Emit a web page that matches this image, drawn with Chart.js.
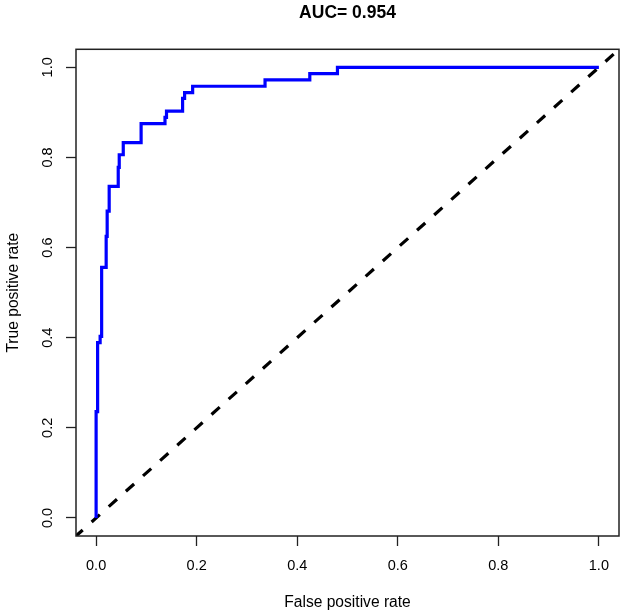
<!DOCTYPE html>
<html>
<head>
<meta charset="utf-8">
<script src="https://cdn.jsdelivr.net/npm/chart.js@4/dist/chart.umd.min.js"></script>
<style>
  html, body { margin: 0; padding: 0; background: #fff; }
  canvas { display: block; }
</style>
</head>
<body>
<canvas id="roc" width="624" height="615"></canvas>
<script>
// ROC curve: corners at the top of each vertical run
const fpr = [0, 0, 0.003, 0.008, 0.011, 0.020, 0.022, 0.026, 0.044, 0.046, 0.054, 0.0895, 0.137, 0.140, 0.172, 0.176, 0.192, 0.336, 0.425, 0.480, 1.0];
const tpr = [0, 0.236, 0.389, 0.403, 0.556, 0.625, 0.681, 0.736, 0.778, 0.806, 0.833, 0.875, 0.889, 0.903, 0.931, 0.944, 0.958, 0.972, 0.986, 1.0, 1.0];

// chance line end points
const diagX = [-0.04, 1.04];
const diagY = [-0.04, 1.04];

const xTickLabels = ['0.0', '0.2', '0.4', '0.6', '0.8', '1.0'];
const yTickLabels = ['0.0', '0.2', '0.4', '0.6', '0.8', '1.0'];

const titleText = 'AUC= 0.954';
const xTitle = 'False positive rate';
const yTitle = 'True positive rate';

const FONT = '"Liberation Sans", Arial, Helvetica, sans-serif';

// box round the plot region, like R's box()
const boxPlugin = {
    id: 'plotBox',
    afterDraw(chart) {
        const a = chart.chartArea;
        const ctx = chart.ctx;
        ctx.save();
        ctx.strokeStyle = '#222';
        ctx.lineWidth = 1.5;
        ctx.strokeRect(a.left, a.top, a.right - a.left, a.bottom - a.top);
        ctx.restore();
    }
};

const ctx = document.getElementById('roc').getContext('2d');
new Chart(ctx, {
    type: 'line',
    data: {
        datasets: [{
            label: 'ROC',
            data: fpr.map((x, i) => ({ x: x, y: tpr[i] })),
            borderColor: '#0000FF',
            borderWidth: 3.2,
            stepped: 'before',
            pointRadius: 0,
            fill: false
        }, {
            label: 'chance',
            data: diagX.map((x, i) => ({ x: x, y: diagY[i] })),
            borderColor: '#000000',
            borderWidth: 3.2,
            borderDash: [11, 12],
            borderDashOffset: 2,
            pointRadius: 0,
            fill: false
        }]
    },
    options: {
        responsive: false,
        animation: false,
        devicePixelRatio: 1,
        layout: { padding: { top: 0, left: 0, bottom: 0, right: 5 } },
        scales: {
            x: {
                type: 'linear',
                min: -0.04,
                max: 1.04,
                afterFit(scale) { scale.height = 79; },
                ticks: {
                    stepSize: 0.2,
                    includeBounds: false,
                    maxRotation: 0,
                    padding: 11.5,
                    color: '#000',
                    font: { family: FONT, size: 14.5 },
                    callback: (v, i) => xTickLabels[i]
                },
                grid: {
                    drawOnChartArea: false,
                    drawTicks: true,
                    tickLength: 10,
                    tickColor: '#222',
                    tickWidth: 1.3
                },
                border: { display: false },
                title: {
                    display: true,
                    text: xTitle,
                    color: '#000',
                    font: { family: FONT, size: 15.6 },
                    padding: { top: 0, bottom: 2.9 }
                }
            },
            y: {
                type: 'linear',
                min: -0.04,
                max: 1.04,
                afterFit(scale) { scale.width = 76; },
                ticks: {
                    stepSize: 0.2,
                    includeBounds: false,
                    minRotation: 90,
                    maxRotation: 90,
                    crossAlign: 'center',
                    padding: 8.3,
                    color: '#000',
                    font: { family: FONT, size: 14.5 },
                    callback: (v, i) => yTickLabels[i]
                },
                grid: {
                    drawOnChartArea: false,
                    drawTicks: true,
                    tickLength: 10,
                    tickColor: '#222',
                    tickWidth: 1.3
                },
                border: { display: false },
                title: {
                    display: true,
                    text: yTitle,
                    color: '#000',
                    font: { family: FONT, size: 15.6 },
                    padding: { top: 3.9, bottom: 0 }
                }
            }
        },
        plugins: {
            legend: { display: false },
            tooltip: { enabled: false },
            title: {
                display: true,
                text: titleText,
                fullSize: false,
                color: '#000',
                font: { family: FONT, size: 17.5, weight: 'bold' },
                padding: { top: 2.8, bottom: 25.5 }
            }
        }
    },
    plugins: [boxPlugin]
});
</script>
</body>
</html>
